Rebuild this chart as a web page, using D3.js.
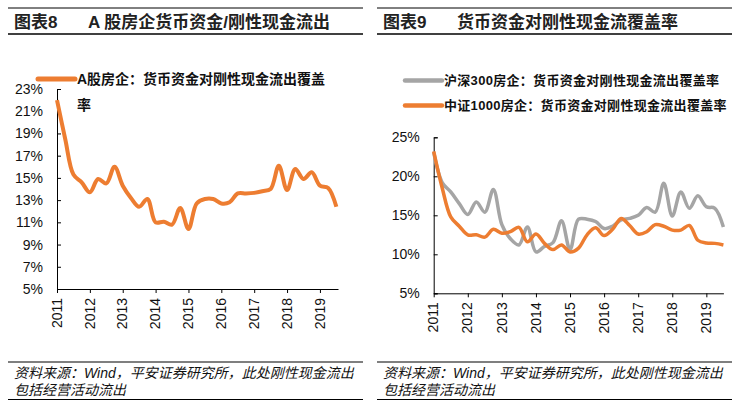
<!DOCTYPE html>
<html><head><meta charset="utf-8">
<script src="https://cdn.jsdelivr.net/npm/d3@7/dist/d3.min.js"></script>
<style>
body{margin:0;background:#fff;}
svg{display:block;font-family:"Liberation Sans","Noto Sans CJK SC",sans-serif;}
</style></head><body>
<svg id="c" width="744" height="412"></svg>
<script>
// ---- data (quarterly, 2011Q1 .. 2019Q3) ----
const years = ["2011","2012","2013","2014","2015","2016","2017","2018","2019"];
const leftValues = [22.0,18.5,15.3,14.6,13.7,14.9,14.5,16.0,14.3,13.2,12.4,13.1,11.0,11.05,10.8,12.3,10.4,12.7,13.1,13.1,12.7,12.8,13.6,13.6,13.65,13.8,14.0,16.1,13.9,15.8,14.9,15.5,14.3,14.1,12.4];
const hs300Values = [23.1,19.2,18.0,16.5,15.1,16.7,15.4,18.3,13.8,12.0,11.2,13.5,10.3,11.0,11.5,14.3,10.6,14.5,14.5,14.2,13.3,13.6,14.4,14.6,15.0,16.0,15.4,19.1,14.9,18.0,15.9,17.5,16.1,15.9,13.5];
const zz1000Values = [23.2,18.5,14.8,13.6,12.5,12.5,12.2,13.2,12.7,12.9,13.45,11.6,12.6,11.4,10.6,11.2,10.3,10.8,12.5,13.4,12.4,13.2,14.6,13.7,12.6,12.9,13.8,13.6,13.1,13.1,13.7,11.8,11.45,11.4,11.2];
const leftTicks = [5,7,9,11,13,15,17,19,21,23];
const rightTicks = [5,10,15,20,25];
const titleL = ["图表8","A 股房企货币资金/刚性现金流出"];
const titleR = ["图表9","货币资金对刚性现金流覆盖率"];
const legendL = ["A股房企：货币资金对刚性现金流出覆盖","率"];
const legendR = ["沪深300房企：货币资金对刚性现金流出覆盖率","中证1000房企：货币资金对刚性现金流出覆盖率"];
const footer = ["资料来源：Wind，平安证券研究所，此处刚性现金流出","包括经营活动流出"];

const ORANGE = "#ED7D31", GRAY = "#A5A5A5";
const svg = d3.select("#c");

function panelFrame(x0, x1, title, tx2){
  svg.append("line").attr("x1",x0).attr("x2",x1).attr("y1",8).attr("y2",8).attr("stroke","#000").attr("stroke-width",1);
  svg.append("line").attr("x1",x0).attr("x2",x1).attr("y1",34).attr("y2",34).attr("stroke","#000").attr("stroke-width",1.5);
  svg.append("text").attr("x",x0+6).attr("y",28).attr("font-size",17).attr("font-weight","bold").attr("fill","#222").text(title[0]);
  svg.append("text").attr("x",tx2).attr("y",28).attr("font-size",17).attr("font-weight","bold").attr("fill","#222").text(title[1]);
  svg.append("line").attr("x1",x0).attr("x2",x1).attr("y1",362).attr("y2",362).attr("stroke","#000").attr("stroke-width",1.2);
  svg.append("line").attr("x1",x0).attr("x2",x1).attr("y1",399.5).attr("y2",399.5).attr("stroke","#000").attr("stroke-width",1.2);
  footer.forEach((t,i)=>{
    svg.append("text").attr("x",x0+6).attr("y",378+i*17).attr("font-size",14).attr("font-style","italic").attr("fill","#111").text(t);
  });
}
panelFrame(8,363,titleL,88);
panelFrame(377,732,titleR,457);

function drawAxes(x, y, ticks, fmtTicks){
  const g = svg.append("g");
  const [y0] = y.range();
  const yAx = g.append("g").attr("transform",`translate(${x.range()[0]},0)`)
    .call(d3.axisLeft(y).tickValues(ticks).tickSize(-4).tickPadding(14).tickFormat(d=>d+"%"));
  yAx.selectAll("text").attr("font-size",14).attr("fill","#111").attr("font-family","Liberation Sans, sans-serif");
  const yearIdx = years.map((d,i)=>i*4);
  const xAx = g.append("g").attr("transform",`translate(0,${y0})`)
    .call(d3.axisBottom(x).tickValues(yearIdx).tickSize(4).tickSizeOuter(0).tickFormat((d,i)=>years[i]));
  xAx.selectAll("text").attr("font-size",14).attr("fill","#111").attr("font-family","Liberation Sans, sans-serif")
    .attr("transform","rotate(-90)").attr("text-anchor","end").attr("x",-9).attr("y",0).attr("dy","0.3em");
  g.selectAll("path.domain").attr("stroke","#000");
  g.selectAll(".tick line").attr("stroke","#000");
}

// ---- left chart ----
const xL = d3.scaleLinear().domain([0,34.2]).range([57,338]);
const yL = d3.scaleLinear().domain([5,23]).range([289,89]);
drawAxes(xL, yL, leftTicks);
const lineL = d3.line().x((d,i)=>xL(i)).y(d=>yL(d)).curve(d3.curveCatmullRom.alpha(0.5));
svg.append("path").datum(leftValues).attr("d",lineL).attr("fill","none").attr("stroke",ORANGE).attr("stroke-width",4).attr("stroke-linejoin","round");
svg.append("line").attr("x1",38).attr("x2",75).attr("y1",79).attr("y2",79).attr("stroke",ORANGE).attr("stroke-width",5).attr("stroke-linecap","round");
svg.append("text").attr("x",77).attr("y",84).attr("font-size",14).attr("font-weight","bold").attr("fill","#111").text(legendL[0]);
svg.append("text").attr("x",77).attr("y",110).attr("font-size",14).attr("font-weight","bold").attr("fill","#111").text(legendL[1]);

// ---- right chart ----
const xR = d3.scaleLinear().domain([0,34]).range([433.7,723.4]);
const yR = d3.scaleLinear().domain([5,25]).range([293.3,137.3]);
drawAxes(xR, yR, rightTicks);
const lineR = d3.line().x((d,i)=>xR(i)).y(d=>yR(d)).curve(d3.curveCatmullRom.alpha(0.5));
svg.append("path").datum(hs300Values).attr("d",lineR).attr("fill","none").attr("stroke",GRAY).attr("stroke-width",3.5).attr("stroke-linejoin","round");
svg.append("path").datum(zz1000Values).attr("d",lineR).attr("fill","none").attr("stroke",ORANGE).attr("stroke-width",3.5).attr("stroke-linejoin","round");
[[GRAY,80.5],[ORANGE,105.5]].forEach(([c,yy],i)=>{
  svg.append("line").attr("x1",405).attr("x2",442).attr("y1",yy).attr("y2",yy).attr("stroke",c).attr("stroke-width",4.5).attr("stroke-linecap","round");
  svg.append("text").attr("x",444).attr("y",yy+4.5).attr("font-size",13).attr("font-weight","bold").attr("letter-spacing","0.3px").attr("fill","#111").text(legendR[i]);
});
</script>
</body></html>
